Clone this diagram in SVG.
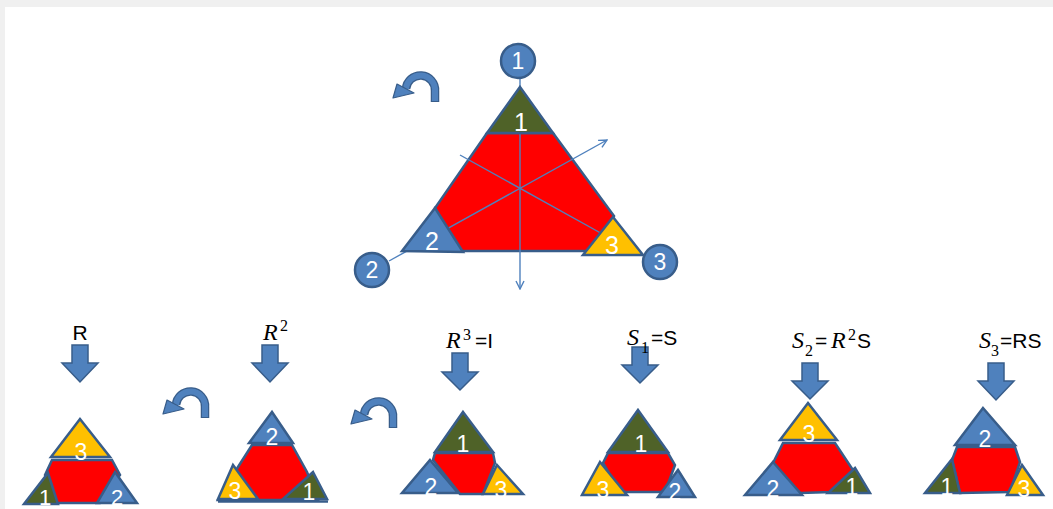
<svg xmlns="http://www.w3.org/2000/svg" xmlns:xlink="http://www.w3.org/1999/xlink" width="1053" height="509" viewBox="0 0 1053 509">
<style>
.pc{stroke:#385d8a;stroke-width:2.5;stroke-linejoin:miter}
.rd{fill:#ff0000}.gr{fill:#4f6228}.bl{fill:#4f81bd}.yl{fill:#ffc000}
.dg{fill:#ffffff;font-family:"Liberation Sans",Arial,sans-serif;text-anchor:middle}
.lb{fill:#000000;font-family:"Liberation Sans",Arial,sans-serif;font-size:21px}
.mi{font-family:"Liberation Serif","Times New Roman",serif;font-style:italic;font-size:24px}
.sm{font-family:"Liberation Serif","Times New Roman",serif;font-size:16px}
.ln{stroke:#4f81bd;stroke-width:1.4;fill:none}
.ba{fill:#4f81bd;stroke:#385d8a;stroke-width:1.5}
</style>
<defs>
<marker id="open" viewBox="0 0 10 10" refX="9" refY="5" markerWidth="10" markerHeight="10" markerUnits="userSpaceOnUse" orient="auto">
<path d="M1,1 L9,5 L1,9" fill="none" stroke="#4f81bd" stroke-width="1.4"/>
</marker>
<g id="curl">
<path d="M43,30 L43,19 A14.5 14.5 0 0 0 14,17" fill="none" stroke="#385d8a" stroke-width="8.5"/>
<path d="M43,29 L43,19 A14.5 14.5 0 0 0 14,17" fill="none" stroke="#4f81bd" stroke-width="6"/>
<polygon points="5,12 22,21 1,26" fill="#4f81bd" stroke="#385d8a" stroke-width="1.2" stroke-linejoin="round"/>
</g>
</defs>
<rect x="0" y="0" width="1053" height="509" fill="#ffffff"/>
<rect x="0" y="0" width="1053" height="7" fill="#f0f0f0"/>
<rect x="0" y="0" width="5" height="509" fill="#f0f0f0"/>

<g id="rotation-arrows">
<use xlink:href="#curl" x="392" y="72"/>
<use xlink:href="#curl" x="162" y="388"/>
<use xlink:href="#curl" x="350" y="398"/>
</g>

<g id="main-triangle">
<polygon class="pc rd" points="487,133 553,133 614,216 590,251 458,251 435,208"/>
</g>

<g id="connectors">
<line class="ln" x1="520" y1="78" x2="520" y2="289" marker-end="url(#open)"/>
<line class="ln" x1="389" y1="261" x2="607" y2="140" marker-end="url(#open)"/>
<line class="ln" x1="460" y1="155" x2="606" y2="236"/>
</g>

<g id="main-corners">
<polygon class="pc gr" points="520,87 553,133 487,133"/>
<polygon class="pc bl" points="435,208 463,252 402,251"/>
<polygon class="pc yl" points="613,217 643,255 583,255"/>
<text class="dg" x="521" y="131" font-size="25">1</text>
<text class="dg" x="432" y="250" font-size="25">2</text>
<text class="dg" x="612" y="254" font-size="25">3</text>
</g>

<g id="vertex-1">
<circle class="pc bl" cx="518" cy="61" r="17"/>
<text class="dg" x="518" y="69" font-size="23">1</text>
</g>
<g id="vertex-2">
<circle class="pc bl" cx="372" cy="270" r="17"/>
<text class="dg" x="372" y="278" font-size="23">2</text>
</g>
<g id="vertex-3">
<circle class="pc bl" cx="660" cy="262" r="17"/>
<text class="dg" x="660" y="270" font-size="23">3</text>
</g>

<g id="label-R">
<polygon class="ba" points="72,345 88,345 88,363 98,363 80,382 62,363 72,363"/>
<text class="lb" x="80" y="340" text-anchor="middle">R</text>
</g>
<g id="label-R2">
<polygon class="ba" points="262,345 278,345 278,363 288,363 270,382 252,363 262,363"/>
<text class="lb"><tspan class="mi" x="263" y="340">R</tspan><tspan class="sm" x="280" y="331">2</tspan></text>
</g>
<g id="label-R3">
<polygon class="ba" points="452,353 468,353 468,372 478,372 460,390 442,372 452,372"/>
<text class="lb"><tspan class="mi" x="446" y="348">R</tspan><tspan class="sm" x="463" y="340">3</tspan><tspan x="475" y="348">=I</tspan></text>
</g>
<g id="label-S1">
<polygon class="ba" points="632,347 648,347 648,365 658,365 640,383 622,365 632,365"/>
<text class="lb"><tspan class="mi" x="627" y="345">S</tspan><tspan class="sm" x="641" y="353">1</tspan><tspan x="651" y="345">=S</tspan></text>
</g>
<g id="label-S2">
<polygon class="ba" points="802,363 818,363 818,381 828,381 810,399 792,381 802,381"/>
<text class="lb"><tspan class="mi" x="792" y="348">S</tspan><tspan class="sm" x="805" y="356">2</tspan><tspan x="815" y="348">=</tspan><tspan class="mi" x="831" y="348">R</tspan><tspan class="sm" x="848" y="340">2</tspan><tspan x="857" y="348">S</tspan></text>
</g>
<g id="label-S3">
<polygon class="ba" points="988,363 1004,363 1004,381 1014,381 996,400 978,381 988,381"/>
<text class="lb"><tspan class="mi" x="979" y="348">S</tspan><tspan class="sm" x="991" y="356">3</tspan><tspan x="1000" y="348">=RS</tspan></text>
</g>

<g id="tri-R">
<polygon class="pc rd" points="52,460 112,460 120,475 100,503 55,503 45,475"/>
<polygon class="pc yl" points="80,419 110,457 51,457"/>
<polygon class="pc gr" points="48,473 58,504 24,504"/>
<polygon class="pc bl" points="115,472 137,503 97,503"/>
<text class="dg" x="81" y="460" font-size="23">3</text>
<text class="dg" x="45" y="505" font-size="22">1</text>
<text class="dg" x="117" y="505" font-size="22">2</text>
</g>
<g id="tri-R2">
<polygon class="pc rd" points="252,445 292,445 307,472 318,500 218,500 238,467"/>
<polygon class="pc bl" points="272,412 293,443 249,443"/>
<polygon class="pc yl" points="233,465 258,499 218,499"/>
<polygon class="pc gr" points="313,472 327,499 283,499"/>
<line x1="218" y1="501.5" x2="328" y2="501.5" stroke="#385d8a" stroke-width="2.5"/>
<text class="dg" x="272" y="445" font-size="23">2</text>
<text class="dg" x="235" y="499" font-size="23">3</text>
<text class="dg" x="309" y="500" font-size="23">1</text>
</g>
<g id="tri-R3">
<polygon class="pc rd" points="435,453 493,453 495,463 483,494 460,494 433,460"/>
<polygon class="pc gr" points="463,412 493,452 435,452"/>
<polygon class="pc bl" points="430,460 458,493 402,493"/>
<polygon class="pc yl" points="497,465 523,494 483,494"/>
<text class="dg" x="463" y="452" font-size="23">1</text>
<text class="dg" x="431" y="495" font-size="23">2</text>
<text class="dg" x="501" y="498" font-size="23">3</text>
</g>
<g id="tri-S1">
<polygon class="pc rd" points="608,453 668,453 675,465 665,492 620,492 603,463"/>
<polygon class="pc gr" points="638,410 668,452 608,452"/>
<polygon class="pc yl" points="600,462 627,495 582,495"/>
<polygon class="pc bl" points="678,470 695,497 658,497"/>
<text class="dg" x="641" y="452" font-size="23">1</text>
<text class="dg" x="603" y="498" font-size="23">3</text>
<text class="dg" x="675" y="500" font-size="23">2</text>
</g>
<g id="tri-S2">
<polygon class="pc rd" points="783,443 835,443 853,470 832,492 800,493 773,463"/>
<polygon class="pc yl" points="808,403 837,440 780,440"/>
<polygon class="pc bl" points="773,462 802,495 745,495"/>
<polygon class="pc gr" points="855,468 870,493 828,493"/>
<text class="dg" x="809" y="442" font-size="23">3</text>
<text class="dg" x="773" y="497" font-size="23">2</text>
<text class="dg" x="852" y="495" font-size="23">1</text>
</g>
<g id="tri-S3">
<polygon class="pc rd" points="957,447 1015,447 1020,462 1010,492 960,493 952,460"/>
<polygon class="pc bl" points="983,408 1015,445 955,445"/>
<polygon class="pc gr" points="952,459 960,493 925,493"/>
<polygon class="pc yl" points="1022,465 1043,495 1007,495"/>
<text class="dg" x="985" y="447" font-size="23">2</text>
<text class="dg" x="947" y="495" font-size="23">1</text>
<text class="dg" x="1024" y="497" font-size="23">3</text>
</g>
</svg>
